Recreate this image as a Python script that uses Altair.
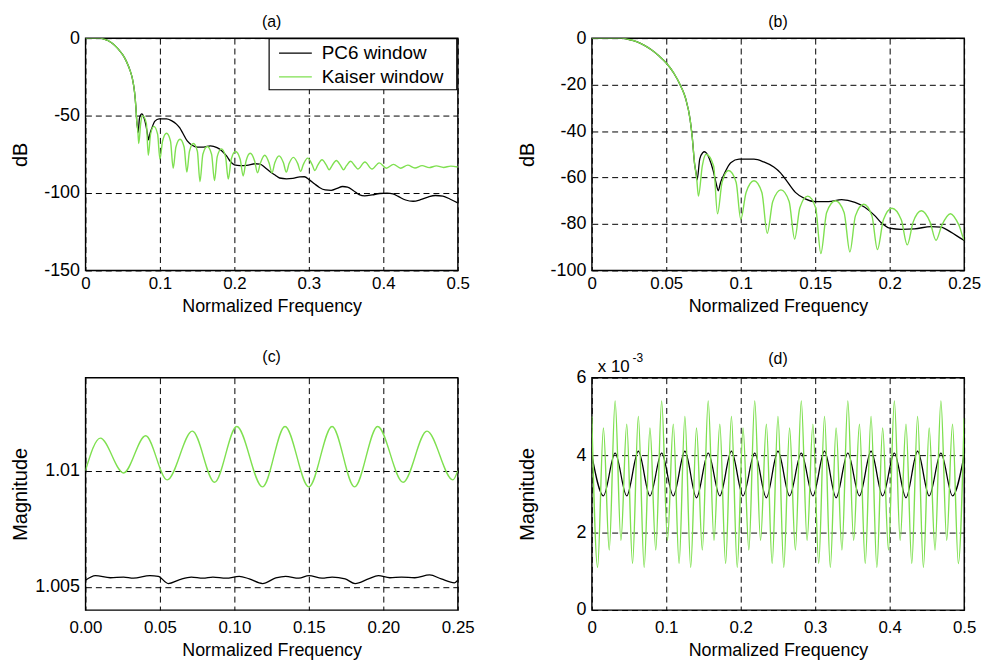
import altair as alt
import pandas as pd

FONT = "Liberation Sans"
GREEN = "#7fe050"
BLACK = "#000000"
SERIES = ["PC6 window", "Kaiser window"]

# ---------------- Panels (a) and (b): response in dB ----------------
pc6_freq = [0, 0.01, 0.02, 0.025, 0.03, 0.035, 0.04, 0.045, 0.05, 0.055,
            0.06, 0.063, 0.066, 0.0675, 0.069, 0.07, 0.0707, 0.0725, 0.0745, 0.0756,
            0.077, 0.079, 0.0815, 0.0835, 0.0849, 0.0865, 0.0889, 0.0933, 0.0989, 0.1089,
            0.1155, 0.1222, 0.1267, 0.13, 0.1367, 0.1433, 0.15, 0.1589, 0.1678, 0.1767,
            0.1833, 0.19, 0.1944, 0.2, 0.2078, 0.2167, 0.2278, 0.2344, 0.2411, 0.2489,
            0.255, 0.2607, 0.27, 0.2785, 0.288, 0.2941, 0.3008, 0.3075, 0.3142, 0.322,
            0.33, 0.338, 0.3453, 0.352, 0.36, 0.3676, 0.375, 0.385, 0.395, 0.405,
            0.413, 0.42, 0.43, 0.44, 0.45, 0.46, 0.47, 0.48, 0.49, 0.5]
pc6_db = [0, 0, 0, -0.6, -1.5, -3, -5, -7.6, -10.7, -15,
          -21, -26, -35, -43, -54, -58, -61, -52, -49.3, -48.9,
          -49.5, -52, -57, -62.5, -65.7, -62, -58.5, -53.6, -52.1, -52.1,
          -53.3, -55.5, -58, -60.7, -66.4, -69.2, -70.4, -70.4, -69.5, -70.7,
          -72.8, -76.4, -79.5, -81.8, -82.3, -82.1, -81.1, -81.3, -83.5, -86.6,
          -88.5, -90.3, -90.8, -90.5, -89.6, -89.5, -91.5, -94, -96.4, -98,
          -98.3, -97, -95.8, -96.2, -98.5, -101, -101.8, -101.2, -100.3, -100,
          -100.6, -102.2, -104.5, -105.3, -104.3, -102.6, -101.6, -102, -104, -106.4]

kaiser_freq = [0, 0.01, 0.02, 0.025, 0.03, 0.035, 0.04, 0.045, 0.05, 0.055, 0.06, 0.063,
               0.066, 0.0675, 0.069, 0.0705, 0.0716,
               0.0742, 0.0767, 0.0818, 0.0844,
               0.0875, 0.0918, 0.0969, 0.1000,
               0.1036, 0.1089, 0.1142, 0.1178,
               0.1215, 0.1270, 0.1325, 0.1362,
               0.1397, 0.1450, 0.1503, 0.1538,
               0.1577, 0.1636, 0.1694, 0.1733,
               0.1770, 0.1826, 0.1881, 0.1918,
               0.1958, 0.2015, 0.2078, 0.2118,
               0.2157, 0.2213, 0.2272, 0.2311,
               0.2350, 0.2408, 0.2466, 0.2505,
               0.2543, 0.2600, 0.2659, 0.2697,
               0.2735, 0.2793, 0.2851, 0.2889,
               0.2927, 0.2985, 0.3043, 0.3081,
               0.3120, 0.3177, 0.3235, 0.3273,
               0.3312, 0.3369, 0.3427, 0.3465,
               0.3503, 0.3561, 0.3619, 0.3657,
               0.3753, 0.3849, 0.3945, 0.4041, 0.4137, 0.4233, 0.4329,
               0.4425, 0.4521, 0.4617, 0.4713, 0.4809, 0.4905, 0.5000]
kaiser_db = [0, 0, 0, -0.6, -1.5, -3, -5, -7.6, -10.7, -15, -21, -26,
             -35, -43, -54, -61, -68,
             -55, -50, -55, -75.6,
             -62, -57, -62, -78,
             -66.4, -61.4, -66.4, -84,
             -70.3, -65.3, -70.3, -86.5,
             -73, -68, -73, -92.7,
             -75, -70, -75, -92,
             -76.5, -71.5, -76.5, -91,
             -78.2, -73.2, -78.2, -89,
             -79.3, -74.3, -79.3, -87,
             -80.6, -75.6, -80.6, -87,
             -80.5, -76, -80.5, -86.5,
             -81, -77, -81, -86,
             -81.5, -77.5, -81.5, -85.5,
             -82, -78.5, -82, -85,
             -82.3, -79, -82.3, -85,
             -82.5, -79.5, -82.5, -84.5,
             -80, -84.5, -80.5, -84, -81.5, -84, -82,
             -83.8, -82.3, -83.6, -82.5, -83.5, -82.6, -83.2]

# ---------------- Panel (c): passband magnitude ----------------
c_pc6_freq = [0, 0.0067, 0.0167, 0.0256, 0.0322, 0.0433, 0.0489, 0.0556, 0.0633, 0.0711,
              0.0789, 0.0856, 0.0944, 0.1033, 0.11, 0.1189, 0.1278, 0.1344, 0.1433, 0.15,
              0.1589, 0.1656, 0.1744, 0.1811, 0.19, 0.1967, 0.2044, 0.2122, 0.2211, 0.2311,
              0.2389, 0.2478, 0.25]
c_pc6_mag = [1.00528, 1.00548, 1.00539, 1.00542, 1.00537, 1.00548, 1.00545, 1.00514, 1.00531, 1.00542,
             1.00537, 1.00542, 1.00537, 1.00545, 1.00534, 1.00514, 1.00538, 1.00545, 1.00537, 1.00548,
             1.00537, 1.00542, 1.00534, 1.00514, 1.00534, 1.00548, 1.00539, 1.00542, 1.00539, 1.00551,
             1.00534, 1.00517, 1.00528]
c_kaiser_freq = [0, 0.0100, 0.0256, 0.0404, 0.0549, 0.0718, 0.0867, 0.1016, 0.1189, 0.1340,
                 0.1500, 0.1656, 0.1807, 0.1962, 0.2133, 0.2293, 0.2467, 0.25]
c_kaiser_mag = [1.0100, 1.0114, 1.0099, 1.0115, 1.0096, 1.0117, 1.0095, 1.0119, 1.0093, 1.0119,
                1.0093, 1.0119, 1.0093, 1.0119, 1.0095, 1.0117, 1.0096, 1.0100]

# ---------------- Panel (d): stopband magnitude (x 10^-3) ----------------
d_pc6_freq = [0.0, 0.0156, 0.0313, 0.0469, 0.0625, 0.0781, 0.0938, 0.1094, 0.125, 0.1406,
              0.1563, 0.1719, 0.1875, 0.2031, 0.2188, 0.2344, 0.25, 0.2656, 0.2813, 0.2969,
              0.3125, 0.3281, 0.3438, 0.3594, 0.375, 0.3906, 0.4063, 0.4219, 0.4375, 0.4531,
              0.4688, 0.4844, 0.5]
d_pc6_mag = [4.0, 2.95, 4.05, 2.95, 4.1, 2.95, 4.05, 2.95, 4.1, 2.9,
             4.05, 2.95, 4.1, 2.95, 4.05, 2.9, 4.1, 2.95, 4.05, 2.95,
             4.1, 2.9, 4.05, 2.95, 4.1, 2.95, 4.05, 2.9, 4.1, 2.95,
             4.05, 2.95, 4.0]
d_kaiser_freq = [0.0, 0.0078, 0.0156, 0.0234, 0.0313, 0.0391, 0.0469, 0.0547, 0.0625, 0.0703,
                 0.0781, 0.0859, 0.0938, 0.1016, 0.1094, 0.1172, 0.125, 0.1328, 0.1406, 0.1484,
                 0.1563, 0.1641, 0.1719, 0.1797, 0.1875, 0.1953, 0.2031, 0.2109, 0.2188, 0.2266,
                 0.2344, 0.2422, 0.25, 0.2578, 0.2656, 0.2734, 0.2813, 0.2891, 0.2969, 0.3047,
                 0.3125, 0.3203, 0.3281, 0.3359, 0.3438, 0.3516, 0.3594, 0.3672, 0.375, 0.3828,
                 0.3906, 0.3984, 0.4063, 0.4141, 0.4219, 0.4297, 0.4375, 0.4453, 0.4531, 0.4609,
                 0.4688, 0.4766, 0.4844, 0.4922, 0.5]
d_kaiser_mag = [5.0, 1.1, 4.7, 1.55, 5.4, 1.8, 4.8, 1.2,
                5.0, 1.1, 4.7, 1.55, 5.4, 1.8, 4.8, 1.2,
                5.0, 1.1, 4.7, 1.55, 5.4, 1.8, 4.8, 1.2,
                5.0, 1.1, 4.7, 1.55, 5.4, 1.8, 4.8, 1.2,
                5.0, 1.1, 4.7, 1.55, 5.4, 1.8, 4.8, 1.2,
                5.0, 1.1, 4.7, 1.55, 5.4, 1.8, 4.8, 1.2,
                5.0, 1.1, 4.7, 1.55, 5.4, 1.8, 4.8, 1.2,
                5.0, 1.1, 4.7, 1.55, 5.4, 1.8, 4.8, 1.2,
                4.95]

# tick values
a_xticks = [0, 0.1, 0.2, 0.3, 0.4, 0.5]
a_yticks = [-150, -100, -50, 0]
b_xticks = [0, 0.05, 0.1, 0.15, 0.2, 0.25]
b_yticks = [-100, -80, -60, -40, -20, 0]
c_xticks = [0, 0.05, 0.1, 0.15, 0.2, 0.25]
c_yticks = [1.005, 1.01]
d_xticks = [0, 0.1, 0.2, 0.3, 0.4, 0.5]
d_yticks = [0, 2, 4, 6]

W, H = 375, 234
color_scale = alt.Scale(domain=SERIES, range=[BLACK, GREEN])
one = pd.DataFrame({"k": [0]})


def frame(freq, vals, name):
    return pd.DataFrame({"f": freq, "v": vals, "s": name})


def panel(black_df, green_df, xdom, xticks, ydom, yticks, title, ytitle, title_offset,
          xexpr="'' + datum.value", extra=None, xlabpad=5, xtitlepad=6):
    x = alt.X("f:Q", scale=alt.Scale(domain=xdom, nice=False, zero=False),
              axis=alt.Axis(values=xticks, labelExpr=xexpr, title="Normalized Frequency",
                            labelPadding=xlabpad, titlePadding=xtitlepad))
    y = alt.Y("v:Q", scale=alt.Scale(domain=ydom, nice=False, zero=False),
              axis=alt.Axis(values=yticks, labelExpr="'' + datum.value", title=ytitle))
    col = alt.Color("s:N", scale=color_scale, legend=None)
    lb = alt.Chart(black_df).mark_line(interpolate="monotone", strokeWidth=1.3, clip=True).encode(
        x=x, y=y, color=col)
    lg = alt.Chart(green_df).mark_line(interpolate="monotone", strokeWidth=1.4, clip=True).encode(
        x=x, y=y, color=col)
    layers = [lb, lg] + (extra or [])
    return alt.layer(*layers).properties(
        width=W, height=H,
        title=alt.Title(title, font=FONT, fontSize=16, fontWeight="normal", color="black",
                        offset=title_offset, frame="group"),
    )


# legend box drawn inside panel (a), top-right corner
leg_box = alt.Chart(one).mark_rect(fill="white", stroke="black", strokeWidth=1.2).encode(
    x=alt.value(185), x2=alt.value(374), y=alt.value(0.5), y2=alt.value(52))
leg_items = []
for i, (name, colr) in enumerate(zip(SERIES, [BLACK, GREEN])):
    yy = 15 + 24 * i
    leg_items.append(alt.Chart(one).mark_rule(color=colr, strokeWidth=1.3).encode(
        x=alt.value(195), x2=alt.value(228), y=alt.value(yy)))
    leg_items.append(alt.Chart(one).mark_text(text=name, font=FONT, fontSize=19, align="left",
                                              baseline="middle", color="black").encode(
        x=alt.value(238), y=alt.value(yy)))

pa = panel(frame(pc6_freq, pc6_db, SERIES[0]), frame(kaiser_freq, kaiser_db, SERIES[1]),
           [0, 0.5], a_xticks, [-150, 0], a_yticks, "(a)", "dB", -1, extra=[leg_box] + leg_items)
pb = panel(frame(pc6_freq, pc6_db, SERIES[0]), frame(kaiser_freq, kaiser_db, SERIES[1]),
           [0, 0.25], b_xticks, [-100, 0], b_yticks, "(b)", "dB", -1)
pc = panel(frame(c_pc6_freq, c_pc6_mag, SERIES[0]), frame(c_kaiser_freq, c_kaiser_mag, SERIES[1]),
           [0, 0.25], c_xticks, [1.004, 1.014], c_yticks, "(c)", "Magnitude", 13,
           xexpr="format(datum.value, '.2f')", xlabpad=10, xtitlepad=6)

exp_base = alt.Chart(one).mark_text(text="x 10", font=FONT, fontSize=17, align="left",
                                    baseline="bottom", color="black").encode(
    x=alt.value(6), y=alt.value(-2))
exp_sup = alt.Chart(one).mark_text(text="-3", font=FONT, fontSize=12, align="left",
                                   baseline="bottom", color="black").encode(
    x=alt.value(41), y=alt.value(-13))
pd_ = panel(frame(d_pc6_freq, d_pc6_mag, SERIES[0]), frame(d_kaiser_freq, d_kaiser_mag, SERIES[1]),
            [0, 0.5], d_xticks, [0, 6], d_yticks, "(d)", "Magnitude", -15,
            extra=[exp_base, exp_sup], xlabpad=10, xtitlepad=6)

chart = alt.concat(
    pa, pb, pc, pd_, columns=2, spacing={"row": 108, "column": 135}, bounds="flush"
).properties(padding={"left": 2, "top": 3, "right": 0, "bottom": 0}).configure_view(
    stroke="black", strokeWidth=1.4
).configure_axis(
    grid=True, gridColor="black", gridDash=[6, 4], gridOpacity=1, gridWidth=1,
    domain=False, ticks=False, labelFlush=False,
    labelFont=FONT, labelColor="black", labelPadding=6,
    titleFont=FONT, titleFontWeight="normal", titleColor="black",
).configure_axisY(
    minExtent=46, maxExtent=46, titlePadding=9, titleFontSize=20, labelFontSize=18,
).configure_axisX(
    titleFontSize=18, labelFontSize=17,
)

chart.save("out.html", embed_options={"renderer": "svg", "actions": False})
